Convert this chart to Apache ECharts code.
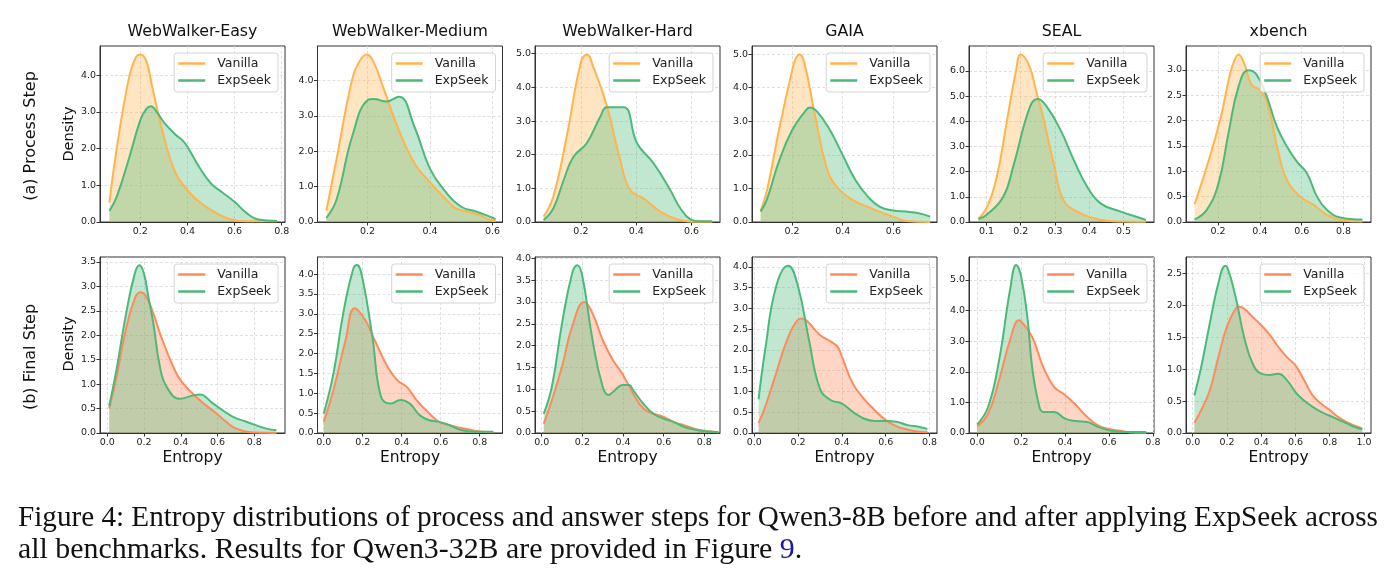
<!DOCTYPE html>
<html>
<head>
<meta charset="utf-8">
<script src="https://cdn.jsdelivr.net/npm/echarts@6/dist/echarts.min.js"></script>
<style>
html, body { margin: 0; padding: 0; background: #fff; }
#chart { width: 1394px; height: 586px; }
</style>
</head>
<body>
<div id="chart"></div>
<script>
// benchmark names (column titles)
const benchmarks = ['WebWalker-Easy', 'WebWalker-Medium', 'WebWalker-Hard', 'GAIA', 'SEAL', 'xbench'];

// (a) process step densities, [entropy, density]
const procEasyVanilla = [[0.069,0.53],[0.1,2.0],[0.15,3.87],[0.18,4.48],[0.2,4.57],[0.225,4.4],[0.25,3.7],[0.3,2.33],[0.35,1.33],[0.4,0.87],[0.45,0.55],[0.5,0.33],[0.55,0.15],[0.6,0.05],[0.65,0.02],[0.78,0.02]];
const procEasyExp = [[0.069,0.3],[0.1,0.69],[0.15,1.69],[0.2,2.78],[0.225,3.08],[0.245,3.16],[0.27,3.0],[0.3,2.72],[0.35,2.38],[0.38,2.22],[0.4,2.05],[0.45,1.5],[0.5,1.05],[0.55,0.8],[0.6,0.55],[0.65,0.25],[0.7,0.07],[0.78,0.03]];
const procMedVanilla = [[0.068,0.32],[0.1,1.75],[0.15,4.0],[0.175,4.55],[0.197,4.73],[0.22,4.5],[0.25,3.8],[0.3,2.6],[0.35,1.66],[0.4,1.12],[0.45,0.65],[0.48,0.4],[0.5,0.33],[0.55,0.22],[0.6,0.04],[0.61,0.03]];
const procMedExp = [[0.068,0.12],[0.1,0.62],[0.15,2.4],[0.2,3.44],[0.22,3.47],[0.26,3.4],[0.3,3.54],[0.35,2.69],[0.4,1.5],[0.45,0.85],[0.5,0.43],[0.55,0.29],[0.6,0.12],[0.61,0.08]];
const procHardVanilla = [[0.065,0.16],[0.1,0.75],[0.15,2.6],[0.2,4.75],[0.222,4.98],[0.245,4.6],[0.294,3.45],[0.342,1.85],[0.378,0.95],[0.427,0.7],[0.487,0.31],[0.547,0.08],[0.6,0.01],[0.675,0.01]];
const procHardExp = [[0.065,0.06],[0.1,0.4],[0.14,1.3],[0.173,1.94],[0.221,2.34],[0.27,3.13],[0.294,3.41],[0.354,3.41],[0.403,2.34],[0.463,1.74],[0.523,0.95],[0.56,0.4],[0.596,0.08],[0.63,0.02],[0.675,0.02]];
const procGaiaVanilla = [[0.076,0.34],[0.1,0.9],[0.15,2.8],[0.2,4.5],[0.215,4.88],[0.23,4.99],[0.25,4.7],[0.29,3.2],[0.336,1.64],[0.376,1.05],[0.44,0.65],[0.5,0.45],[0.544,0.31],[0.6,0.16],[0.65,0.03],[0.745,0.0]];
const procGaiaExp = [[0.076,0.31],[0.1,0.65],[0.15,1.84],[0.2,2.73],[0.25,3.28],[0.27,3.41],[0.3,3.28],[0.35,2.73],[0.4,1.99],[0.45,1.25],[0.5,0.75],[0.547,0.45],[0.6,0.34],[0.65,0.31],[0.7,0.26],[0.745,0.16]];
const procSealVanilla = [[0.0765,0.13],[0.1,0.55],[0.13,1.8],[0.157,3.8],[0.186,6.0],[0.2,6.65],[0.225,6.2],[0.245,5.2],[0.265,4.19],[0.296,2.33],[0.325,0.87],[0.365,0.41],[0.414,0.15],[0.453,0.05],[0.5,0.02],[0.565,0.01]];
const procSealExp = [[0.0765,0.12],[0.1,0.28],[0.149,1.0],[0.178,2.2],[0.227,4.58],[0.25,4.89],[0.276,4.58],[0.316,3.66],[0.355,2.46],[0.394,1.4],[0.433,0.74],[0.492,0.41],[0.551,0.15],[0.565,0.08]];
const procXbenchVanilla = [[0.088,0.35],[0.146,1.09],[0.21,2.01],[0.258,2.93],[0.28,3.2],[0.298,3.3],[0.315,3.22],[0.33,3.07],[0.361,2.7],[0.401,2.6],[0.44,2.28],[0.489,1.36],[0.529,0.83],[0.593,0.5],[0.657,0.34],[0.72,0.14],[0.784,0.04],[0.89,0.01]];
const procXbenchExp = [[0.088,0.05],[0.146,0.24],[0.202,0.76],[0.25,1.75],[0.298,2.67],[0.345,2.99],[0.385,2.9],[0.433,2.47],[0.481,1.88],[0.529,1.49],[0.577,1.19],[0.625,0.96],[0.673,0.5],[0.72,0.24],[0.784,0.09],[0.89,0.05]];

// (b) final step densities, [entropy, density]
const finEasyVanilla = [[0.01,0.5],[0.05,1.15],[0.1,2.1],[0.15,2.76],[0.18,2.88],[0.21,2.8],[0.25,2.45],[0.286,2.04],[0.358,1.36],[0.404,1.05],[0.503,0.67],[0.594,0.4],[0.64,0.25],[0.685,0.12],[0.74,0.04],[0.8,0.01],[0.92,0.0]];
const finEasyExp = [[0.01,0.55],[0.05,1.3],[0.1,2.4],[0.15,3.27],[0.175,3.43],[0.2,3.25],[0.223,2.79],[0.25,2.25],[0.286,1.36],[0.322,0.95],[0.395,0.7],[0.467,0.77],[0.503,0.79],[0.576,0.6],[0.684,0.33],[0.757,0.23],[0.865,0.09],[0.92,0.055]];
const finMedVanilla = [[0.0,0.28],[0.05,1.08],[0.112,2.34],[0.159,3.14],[0.212,2.85],[0.261,2.34],[0.327,1.67],[0.377,1.33],[0.426,1.16],[0.476,0.83],[0.542,0.49],[0.592,0.28],[0.65,0.19],[0.7,0.13],[0.75,0.08],[0.8,0.04],[0.87,0.02]];
const finMedExp = [[0.0,0.49],[0.05,1.5],[0.1,3.01],[0.15,4.11],[0.17,4.23],[0.2,3.86],[0.25,2.4],[0.294,0.91],[0.343,0.74],[0.393,0.83],[0.442,0.74],[0.492,0.45],[0.542,0.32],[0.592,0.28],[0.65,0.19],[0.7,0.08],[0.75,0.04],[0.87,0.03]];
const finHardVanilla = [[0.01,0.21],[0.05,0.75],[0.1,1.52],[0.15,2.44],[0.21,3.0],[0.25,2.74],[0.3,2.13],[0.35,1.67],[0.4,1.33],[0.45,0.9],[0.5,0.56],[0.55,0.44],[0.6,0.37],[0.65,0.25],[0.7,0.18],[0.75,0.1],[0.8,0.05],[0.87,0.02]];
const finHardExp = [[0.01,0.44],[0.05,1.06],[0.1,2.51],[0.15,3.66],[0.175,3.84],[0.2,3.59],[0.25,2.13],[0.3,1.06],[0.33,0.87],[0.35,0.94],[0.4,1.1],[0.43,1.1],[0.45,0.98],[0.5,0.67],[0.55,0.44],[0.6,0.33],[0.65,0.25],[0.7,0.14],[0.75,0.08],[0.8,0.04],[0.87,0.02]];
const finGaiaVanilla = [[0.02,0.24],[0.05,0.63],[0.1,1.44],[0.15,2.24],[0.2,2.73],[0.22,2.76],[0.25,2.65],[0.3,2.36],[0.35,2.2],[0.38,2.08],[0.4,1.84],[0.45,1.19],[0.5,0.83],[0.55,0.55],[0.6,0.31],[0.65,0.16],[0.7,0.08],[0.75,0.03],[0.79,0.02]];
const finGaiaExp = [[0.02,0.81],[0.05,2.0],[0.1,3.53],[0.155,4.03],[0.2,3.53],[0.25,2.24],[0.3,1.07],[0.35,0.79],[0.4,0.71],[0.45,0.51],[0.5,0.35],[0.55,0.29],[0.6,0.29],[0.65,0.27],[0.7,0.19],[0.75,0.15],[0.79,0.1]];
const finSealVanilla = [[0.0,0.22],[0.05,0.63],[0.1,1.73],[0.15,3.04],[0.19,3.68],[0.2,3.65],[0.25,3.15],[0.3,2.17],[0.35,1.51],[0.4,1.24],[0.45,0.91],[0.5,0.53],[0.55,0.25],[0.6,0.13],[0.65,0.07],[0.7,0.02],[0.77,0.01]];
const finSealExp = [[0.0,0.28],[0.05,0.85],[0.1,2.38],[0.15,4.68],[0.178,5.49],[0.2,5.12],[0.23,3.7],[0.25,2.17],[0.28,0.96],[0.3,0.69],[0.35,0.69],[0.4,0.47],[0.45,0.39],[0.5,0.36],[0.55,0.2],[0.6,0.09],[0.65,0.04],[0.7,0.03],[0.77,0.03]];
const finXbenchVanilla = [[0.01,0.16],[0.05,0.36],[0.1,0.67],[0.15,1.19],[0.2,1.67],[0.25,1.95],[0.27,1.98],[0.3,1.95],[0.35,1.82],[0.4,1.69],[0.45,1.54],[0.5,1.35],[0.55,1.19],[0.6,1.06],[0.65,0.83],[0.7,0.59],[0.75,0.46],[0.8,0.36],[0.85,0.25],[0.9,0.17],[0.95,0.11],[0.99,0.07]];
const finXbenchExp = [[0.01,0.59],[0.05,1.04],[0.1,1.72],[0.15,2.35],[0.19,2.62],[0.2,2.61],[0.25,2.14],[0.3,1.51],[0.35,1.09],[0.4,0.93],[0.45,0.91],[0.5,0.93],[0.55,0.83],[0.6,0.64],[0.65,0.51],[0.7,0.41],[0.75,0.33],[0.8,0.27],[0.85,0.21],[0.9,0.15],[0.95,0.09],[0.99,0.06]];

// axis ranges and ticks
const procXRange = [[0.029,0.814],[0.0395,0.632],[0.034,0.703],[0.042,0.772],[0.049,0.589],[0.047,0.931]];
const procYMax = [4.8, 4.97, 5.23, 5.24, 6.99, 3.47];
const procXTicks = [[0.2,0.4,0.6,0.8],[0.2,0.4,0.6],[0.2,0.4,0.6],[0.2,0.4,0.6],[0.1,0.2,0.3,0.4,0.5],[0.2,0.4,0.6,0.8]];
const procYTicks = [[0,1,2,3,4],[0,1,2,3,4],[0,1,2,3,4,5],[0,1,2,3,4,5],[0,1,2,3,4,5,6],[0,0.5,1,1.5,2,2.5,3]];
const finXRange = [[-0.04,0.967],[-0.032,0.917],[-0.033,0.877],[-0.01,0.834],[-0.037,0.805],[-0.039,1.041]];
const finYMax = [3.6, 4.43, 4.03, 4.24, 5.75, 2.76];
const finXTicks = [[0,0.2,0.4,0.6,0.8],[0,0.2,0.4,0.6,0.8],[0,0.2,0.4,0.6,0.8],[0,0.2,0.4,0.6,0.8],[0,0.2,0.4,0.6,0.8],[0,0.2,0.4,0.6,0.8,1.0]];
const finYTicks = [[0,0.5,1,1.5,2,2.5,3,3.5],[0,0.5,1,1.5,2,2.5,3,3.5,4],[0,0.5,1,1.5,2,2.5,3,3.5,4],[0,0.5,1,1.5,2,2.5,3,3.5,4],[0,1,2,3,4,5],[0,0.5,1,1.5,2,2.5]];

const procVanilla = [procEasyVanilla, procMedVanilla, procHardVanilla, procGaiaVanilla, procSealVanilla, procXbenchVanilla];
const procExp = [procEasyExp, procMedExp, procHardExp, procGaiaExp, procSealExp, procXbenchExp];
const finVanilla = [finEasyVanilla, finMedVanilla, finHardVanilla, finGaiaVanilla, finSealVanilla, finXbenchVanilla];
const finExp = [finEasyExp, finMedExp, finHardExp, finGaiaExp, finSealExp, finXbenchExp];

// colours
const orange = '#FFB44F';
const coral = '#FF8A5B';
const green = '#4CB97A';

const chart = echarts.init(document.getElementById('chart'));

const lefts = [100, 317.5, 535, 752, 969, 1186];
const panelW = 185;
const panelH = 176;
const rows = [
    { top: 46, xr: procXRange, ymax: procYMax, xt: procXTicks, yt: procYTicks, v: procVanilla, e: procExp, vColor: orange, tag: '', label: '(a) Process Step', labelY: 136, densY: 134 },
    { top: 257, xr: finXRange, ymax: finYMax, xt: finXTicks, yt: finYTicks, v: finVanilla, e: finExp, vColor: coral, tag: ' (final)', label: '(b) Final Step', labelY: 357, densY: 344 }
];

const grid = [], xAxis = [], yAxis = [], series = [], legend = [], graphic = [];
const tickFont = { fontFamily: 'DejaVu Sans', fontSize: 9.5, color: '#222' };
const gridLine = { show: true, lineStyle: { color: '#d8d8d8', type: [3, 2], width: 0.8 } };

rows.forEach((row, r) => {
    for (let i = 0; i < 6; i++) {
        const idx = r * 6 + i;
        grid.push({ left: lefts[i], top: row.top, width: panelW, height: panelH, show: true, borderColor: '#333', borderWidth: 1 });
        xAxis.push({
            type: 'value', gridIndex: idx, min: row.xr[i][0], max: row.xr[i][1], z: 3,
            axisLine: { onZero: false, lineStyle: { color: '#333', width: 1 } },
            axisTick: { customValues: row.xt[i], length: 3.5, lineStyle: { color: '#333' } },
            axisLabel: { customValues: row.xt[i], margin: 5, formatter: v => v.toFixed(1), ...tickFont },
            splitLine: gridLine
        });
        yAxis.push({
            type: 'value', gridIndex: idx, min: 0, max: row.ymax[i], z: 3,
            axisLine: { show: true, onZero: false, lineStyle: { color: '#333', width: 1 } },
            axisTick: { show: true, customValues: row.yt[i], length: 3.5, lineStyle: { color: '#333' } },
            axisLabel: { customValues: row.yt[i], margin: 4, formatter: v => v.toFixed(1), ...tickFont },
            splitLine: gridLine
        });
        const vName = 'Vanilla' + row.tag, eName = 'ExpSeek' + row.tag;
        [[vName, row.v[i], row.vColor], [eName, row.e[i], green]].forEach(([name, data, color]) => {
            series.push({
                name, type: 'line', xAxisIndex: idx, yAxisIndex: idx, data,
                smooth: 0.45, symbol: 'none', color,
                lineStyle: { width: 2, color },
                areaStyle: { color, opacity: 0.35 }
            });
        });
        legend.push({
            data: [vName, eName], orient: 'vertical',
            right: 1394 - (lefts[i] + panelW) + 7, top: row.top + 7,
            icon: 'rect', itemWidth: 27, itemHeight: 2.5, itemGap: 4,
            padding: [4, 7, 5, 4],
            backgroundColor: 'rgba(255,255,255,0.8)', borderColor: '#d4d4d4', borderWidth: 1, borderRadius: 3,
            formatter: n => n.split(' ')[0],
            textStyle: { fontFamily: 'DejaVu Sans', fontSize: 12.5, color: '#222', padding: [0, 0, 0, 7] }
        });
        if (r === 0) {
            graphic.push({ type: 'text', x: lefts[i] + panelW / 2, y: 32,
                style: { text: benchmarks[i], font: '15.8px "DejaVu Sans"', fill: '#111', textAlign: 'center', textVerticalAlign: 'middle' } });
        } else {
            graphic.push({ type: 'text', x: lefts[i] + panelW / 2, y: 458,
                style: { text: 'Entropy', font: '15.5px "DejaVu Sans"', fill: '#111', textAlign: 'center', textVerticalAlign: 'middle' } });
        }
    }
    graphic.push({ type: 'text', x: 31, y: row.labelY, rotation: Math.PI / 2,
        style: { text: row.label, font: '16px "DejaVu Sans"', fill: '#111', textAlign: 'center', textVerticalAlign: 'middle' } });
    graphic.push({ type: 'text', x: 69, y: row.densY, rotation: Math.PI / 2,
        style: { text: 'Density', font: '14.5px "DejaVu Sans"', fill: '#111', textAlign: 'center', textVerticalAlign: 'middle' } });
});

// caption
graphic.push({ type: 'text', x: 18, y: 518.5, scaleX: 0.988,
    style: { text: 'Figure 4: Entropy distributions of process and answer steps for Qwen3-8B before and after applying ExpSeek across',
        font: '29.5px "Liberation Serif"', fill: '#111', textVerticalAlign: 'middle' } });
graphic.push({ type: 'text', x: 18, y: 550.5, scaleX: 1.013,
    style: { text: 'all benchmarks. Results for Qwen3-32B are provided in Figure {b|9}.',
        font: '29.5px "Liberation Serif"', fill: '#111', textVerticalAlign: 'middle',
        rich: { b: { fill: '#1a1a9c', font: '29.5px "Liberation Serif"' } } } });

chart.setOption({
    animation: false,
    grid, xAxis, yAxis, series, legend, graphic
});
</script>
</body>
</html>
